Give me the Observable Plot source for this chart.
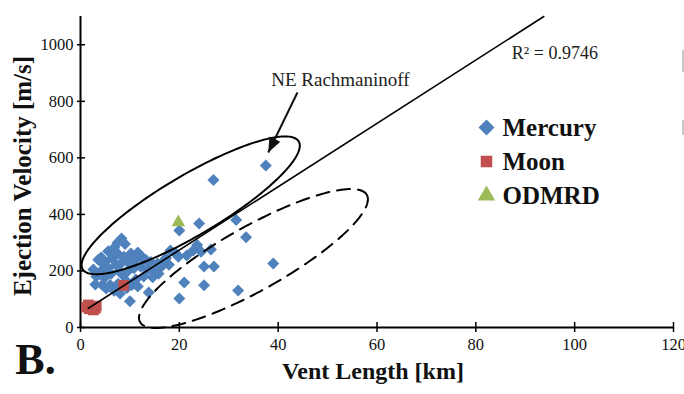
<!DOCTYPE html>
<html>
<head>
<meta charset="utf-8">
<script src="https://cdn.jsdelivr.net/npm/d3@7"></script>
<script src="https://cdn.jsdelivr.net/npm/@observablehq/plot@0.6"></script>
<style>
  html, body { margin: 0; padding: 0; background: #fff; }
  #chart { position: relative; width: 684px; height: 394px; overflow: hidden; }
  #chart svg text { font-family: 'Liberation Serif', 'Times New Roman', serif; }
  .edge { position: absolute; left: 682px; width: 2px; background: #c8c8c8; }
</style>
</head>
<body>
<div id="chart"></div>
<script>
// Vent length [km] vs. ejection velocity [m/s]
const mercury = [
  [37.5, 573], [26.9, 522], [31.5, 380], [24.0, 368], [20.0, 343], [33.5, 319],
  [39.0, 226], [25.0, 149], [31.9, 131], [21.0, 159], [20.0, 103], [27.0, 216],
  [25.0, 216],
  [23.6, 292], [22.8, 272], [24.4, 268], [26.4, 276], [18.2, 272], [19.3, 262],
  [17.3, 245], [16.6, 232], [15.6, 226], [19.8, 250], [21.5, 255], [17.9, 222],
  [16.2, 212],
  [8.3, 315], [7.5, 300], [9.0, 295], [6.8, 282], [5.6, 270], [4.2, 248],
  [3.6, 240], [5.0, 232], [6.4, 245], [7.6, 260], [8.8, 250], [10.2, 262],
  [11.6, 265], [12.4, 250], [13.2, 240], [14.2, 232], [11.0, 238], [9.8, 228],
  [7.2, 222], [5.6, 210], [4.2, 200], [3.2, 180], [4.8, 175], [6.2, 190],
  [7.8, 200], [8.6, 185], [9.6, 200], [10.8, 210], [12.2, 215], [13.6, 205],
  [14.8, 198], [12.8, 180], [11.2, 170], [9.2, 165], [7.6, 155], [6.0, 150],
  [4.4, 150], [3.0, 152], [5.2, 138], [6.8, 130], [8.0, 120], [9.4, 140],
  [10.4, 150], [11.6, 145], [13.8, 124], [10.0, 93], [14.6, 178], [15.8, 190],
  [2.6, 205], [4.6, 225], [8.4, 230]
];
const moon = [[1.2, 72], [1.8, 66], [2.4, 72], [3.0, 68], [1.6, 80], [2.6, 62], [3.2, 76], [8.7, 149]];
const odmrd = [[19.8, 372]];

const seriesNames = ["Mercury", "Moon", "ODMRD"];
const seriesColors = ["#4f81bd", "#c0504d", "#9bbb59"];

const xTicks = [0, 20, 40, 60, 80, 100, 120];
const yTicks = [0, 200, 400, 600, 800, 1000];

// Linear trend line drawn through the data
const trendSlope = 11.2;
const trendIntercept = 50;
const trendRange = [1.6, 93.75];
const trendLabel = "R² = 0.9746";

// Annotation: NE Rachmaninoff
const noteText = "NE Rachmaninoff";
const notePos = [52.6, 877];
const noteArrow = {from: [43.9, 831], to: [38.0, 619]};
const r2Pos = [96, 969];

// Layout
const W = 684, H = 394;
const mL = 80, mR = 11, mT = 16, mB = 67;
const xDomain = [0, 120], yDomain = [0, 1100];
const kx = (W - mL - mR) / (xDomain[1] - xDomain[0]);   // px per km
const ky = (H - mT - mB) / (yDomain[1] - yDomain[0]);   // px per m/s

// Outlines around the two groups: centre in data units, semi-axes in px, tilt in degrees
const outlines = [
  {cx: 22.3, cy: 432, a: 125.5, b: 30, angle: -30.6, dash: null},
  {cx: 35.0, cy: 244, a: 130, b: 32, angle: -29.3, dash: "13,8"}
];

function ellipsePoints(e) {
  const phi = e.angle * Math.PI / 180;
  return d3.range(0, 181).map(i => {
    const t = i / 180 * 2 * Math.PI;
    const px = e.a * Math.cos(t) * Math.cos(phi) - e.b * Math.sin(t) * Math.sin(phi);
    const py = e.a * Math.cos(t) * Math.sin(phi) + e.b * Math.sin(t) * Math.cos(phi);
    return {x: e.cx + px / kx, y: e.cy - py / ky};
  });
}

// Symbols
const diamond = {
  draw(ctx, size) {
    const r = Math.sqrt(size / Math.PI);
    ctx.moveTo(0, -r); ctx.lineTo(r, 0); ctx.lineTo(0, r); ctx.lineTo(-r, 0); ctx.closePath();
  }
};
const arrowHead = {
  draw(ctx, size) {
    const h = Math.sqrt(size / Math.PI) * 2;
    ctx.moveTo(0, 0); ctx.lineTo(-h * 0.4, h); ctx.lineTo(h * 0.4, h); ctx.closePath();
  }
};
const seriesSymbols = [diamond, "square", "triangle"];
const seriesR = [6, 6, 5];

const toRows = arr => arr.map(([x, y]) => ({x, y}));
const trendRows = trendRange.map(x => ({x, y: trendSlope * x + trendIntercept}));

// arrow head orientation in screen space
const adx = (noteArrow.to[0] - noteArrow.from[0]) * kx;
const ady = -(noteArrow.to[1] - noteArrow.from[1]) * ky;
const headRotate = Math.atan2(adx, -ady) * 180 / Math.PI;

const serif = "'Liberation Serif', 'Times New Roman', serif";
const intFormat = d3.format("d");

const legendMarks = seriesNames.flatMap((name, i) => [
  Plot.dot([name], {frameAnchor: "top-left", dx: 406, dy: 111 + i * 34,
    symbol: seriesSymbols[i], r: i === 0 ? 8 : 6.5, fill: seriesColors[i]}),
  Plot.text([name], {frameAnchor: "top-left", dx: 422, dy: 111 + i * 34, fontFamily: serif,
    textAnchor: "start", lineAnchor: "middle", fontSize: 25, fontWeight: "bold", fill: "#111"})
]);

const chart = Plot.plot({
  width: W, height: H,
  marginLeft: mL, marginRight: mR, marginTop: mT, marginBottom: mB,
  x: {domain: xDomain},
  y: {domain: yDomain},
  style: {fontFamily: serif, fontSize: "16px", color: "#000", background: "#fff", overflow: "visible"},
  marks: [
    // axes
    Plot.ruleY([0], {stroke: "#000", strokeWidth: 2}),
    Plot.ruleX([0], {stroke: "#000", strokeWidth: 2}),
    Plot.axisX(xTicks, {tickSize: 10, dy: -5, tickFormat: () => "", label: null, strokeWidth: 1.5}),
    Plot.axisX(xTicks, {tickSize: 0, tickPadding: 11, label: null, tickFormat: intFormat,
      fontFamily: serif, fontSize: 16.5, fill: "#111"}),
    Plot.axisY(yTicks, {tickSize: 8, dx: 5, tickFormat: () => "", label: null, strokeWidth: 1.5}),
    Plot.axisY(yTicks, {tickSize: 0, tickPadding: 7, label: null, tickFormat: intFormat,
      fontFamily: serif, fontSize: 16.5, fill: "#111"}),

    // data
    Plot.dot(toRows(mercury), {x: "x", y: "y", symbol: diamond, r: seriesR[0], fill: seriesColors[0]}),
    Plot.dot(toRows(moon), {x: "x", y: "y", symbol: "square", r: seriesR[1], fill: seriesColors[1]}),
    Plot.dot(toRows(odmrd), {x: "x", y: "y", symbol: "triangle", r: seriesR[2], fill: seriesColors[2]}),

    // trend line
    Plot.line(trendRows, {x: "x", y: "y", stroke: "#000", strokeWidth: 1.6}),
    Plot.text([trendLabel], {x: r2Pos[0], y: r2Pos[1], fontFamily: serif, fontSize: 18, fill: "#222"}),

    // outlines
    ...outlines.map(e => Plot.line(ellipsePoints(e), {x: "x", y: "y", stroke: "#000", strokeWidth: 2,
      strokeDasharray: e.dash, curve: "linear"})),

    // annotation
    Plot.text([noteText], {x: notePos[0], y: notePos[1], fontFamily: serif, fontSize: 19, fill: "#222"}),
    Plot.link([noteArrow], {x1: d => d.from[0], y1: d => d.from[1], x2: d => d.to[0], y2: d => d.to[1],
      stroke: "#111", strokeWidth: 2}),
    Plot.dot([noteArrow], {x: d => d.to[0], y: d => d.to[1], symbol: arrowHead, r: 7.5,
      fill: "#111", rotate: headRotate}),

    // legend
    ...legendMarks,

    // axis titles
    Plot.text(["Vent Length [km]"], {frameAnchor: "bottom", dx: -4, dy: 51, textAnchor: "middle",
      fontFamily: serif, fontSize: 24, fontWeight: "bold", fill: "#111"}),
    Plot.text(["Ejection Velocity [m/s]"], {frameAnchor: "left", dx: -58, dy: 4, textAnchor: "middle",
      fontFamily: serif, rotate: -90, fontSize: 25, fontWeight: "bold", fill: "#111"}),
    Plot.text(["B."], {frameAnchor: "bottom-left", dx: -45, dy: 46, textAnchor: "middle",
      fontFamily: serif, fontSize: 44, fontWeight: "bold", fill: "#111"})
  ]
});

const host = document.getElementById("chart");
host.appendChild(chart);
[[50, 22], [120, 15]].forEach(([top, h]) => {
  const d = document.createElement("div");
  d.className = "edge";
  d.style.top = top + "px";
  d.style.height = h + "px";
  host.appendChild(d);
});
</script>
</body>
</html>
